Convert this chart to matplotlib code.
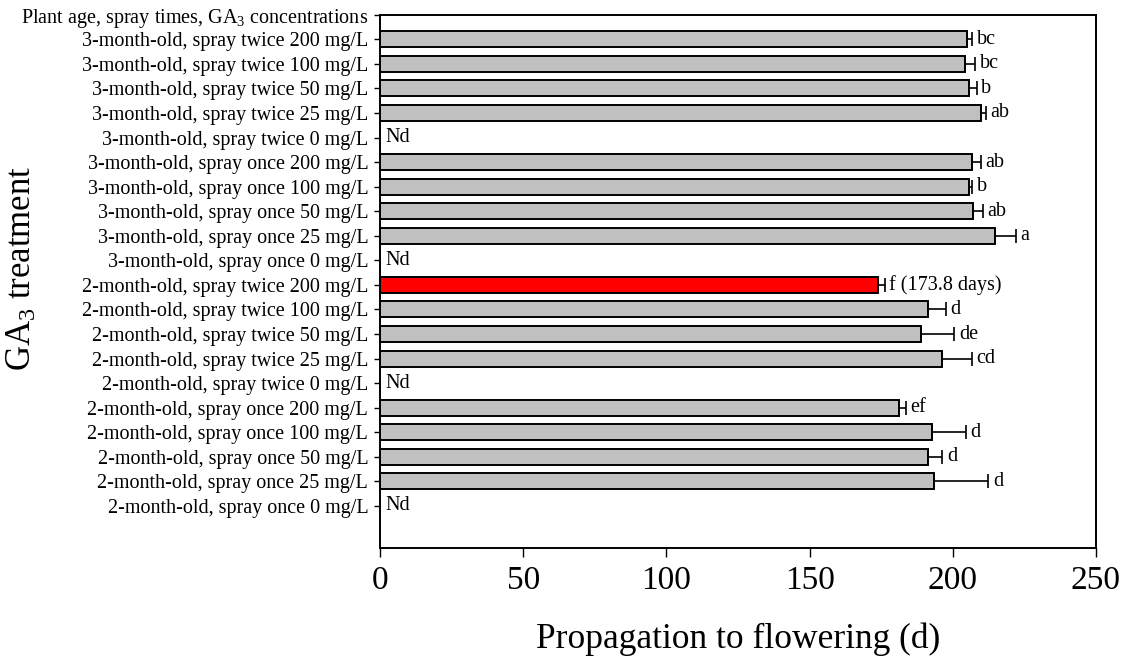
import numpy as np
import matplotlib
matplotlib.use("Agg")
import matplotlib.pyplot as plt

# -----------------------------
# DATA (top to bottom)
# -----------------------------
HEADER = "Plant age, spray times, GA$_3$ concentrations"

labels = [
    "3-month-old, spray twice 200 mg/L",
    "3-month-old, spray twice 100 mg/L",
    "3-month-old, spray twice 50 mg/L",
    "3-month-old, spray twice 25 mg/L",
    "3-month-old, spray twice 0 mg/L",
    "3-month-old, spray once 200 mg/L",
    "3-month-old, spray once 100 mg/L",
    "3-month-old, spray once 50 mg/L",
    "3-month-old, spray once 25 mg/L",
    "3-month-old, spray once 0 mg/L",
    "2-month-old, spray twice 200 mg/L",
    "2-month-old, spray twice 100 mg/L",
    "2-month-old, spray twice 50 mg/L",
    "2-month-old, spray twice 25 mg/L",
    "2-month-old, spray twice 0 mg/L",
    "2-month-old, spray once 200 mg/L",
    "2-month-old, spray once 100 mg/L",
    "2-month-old, spray once 50 mg/L",
    "2-month-old, spray once 25 mg/L",
    "2-month-old, spray once 0 mg/L",
]

# nan = not determined (Nd)
days = [205.0, 204.3, 205.5, 209.8, np.nan,
        206.6, 205.7, 206.9, 214.8, np.nan,
        173.8, 191.5, 188.9, 196.4, np.nan,
        181.3, 192.6, 191.2, 193.5, np.nan]

errors = [1.7, 3.5, 2.9, 1.7, np.nan,
          3.1, 1.0, 3.5, 7.3, np.nan,
          2.4, 6.0, 11.6, 10.2, np.nan,
          2.3, 12.0, 5.2, 18.9, np.nan]

letters = ["bc", "bc", "b", "ab", "Nd",
           "ab", "b", "ab", "a", "Nd",
           "f (173.8 days)", "d", "de", "cd", "Nd",
           "ef", "d", "d", "d", "Nd"]

highlight = "2-month-old, spray twice 200 mg/L"

# -----------------------------
# STYLE
# -----------------------------
plt.rcParams["font.family"] = ["Liberation Serif", "DejaVu Serif"]
plt.rcParams["mathtext.fontset"] = "custom"
plt.rcParams["mathtext.rm"] = "Liberation Serif"
plt.rcParams["mathtext.it"] = "Liberation Serif"
plt.rcParams["mathtext.default"] = "rm"

fig = plt.figure(figsize=(11.31, 6.59), dpi=100)
ax = fig.add_axes([380 / 1131, 1 - 548 / 659, (1096 - 380) / 1131, (548 - 14.7) / 659])

n = len(labels)
ypos = np.arange(n - 1, -1, -1)  # top row highest
vals = np.array(days)
errs = np.array(errors)
colors = ["#ff0000" if lab == highlight else "#c0c0c0" for lab in labels]

ok = ~np.isnan(vals)
ax.barh(ypos[ok], vals[ok], height=0.65, color=np.array(colors)[ok],
        edgecolor="black", linewidth=1.4, zorder=2)
ax.errorbar(vals[ok], ypos[ok],
            xerr=[np.zeros(ok.sum()), errs[ok]],
            fmt="none", ecolor="black", elinewidth=1.2, capsize=4.8,
            capthick=1.2, zorder=3)

FS = 14.5
for y, v, e, t in zip(ypos, vals, errs, letters):
    if np.isnan(v):
        ax.text(2.0, y, t, va="center", ha="left", fontsize=FS)
    else:
        ax.text(v + e + 1.6, y, t, va="center", ha="left", fontsize=FS)

ax.set_yticks(list(ypos) + [n])
ax.set_yticklabels(labels + [HEADER], fontsize=FS)
ax.set_ylim(-1.71, n)
ax.set_xlim(0, 250)
ax.set_xticks([0, 50, 100, 150, 200, 250])
ax.tick_params(axis="y", direction="out", length=4.5, width=1.0, pad=4)
ax.tick_params(axis="x", direction="out", length=6.5, width=1.0, pad=6,
               labelsize=24)

for s in ax.spines.values():
    s.set_linewidth(1.4)
    s.set_color("black")

ax.set_xlabel("Propagation to flowering (d)", fontsize=25.5, labelpad=19)
fig.text(22 / 1131, 0.5 + (659 / 2 - 268) / 659, "GA$_3$ treatment", rotation=90,
         fontsize=25, va="center", ha="center")

fig.savefig("out.png", dpi=100)
